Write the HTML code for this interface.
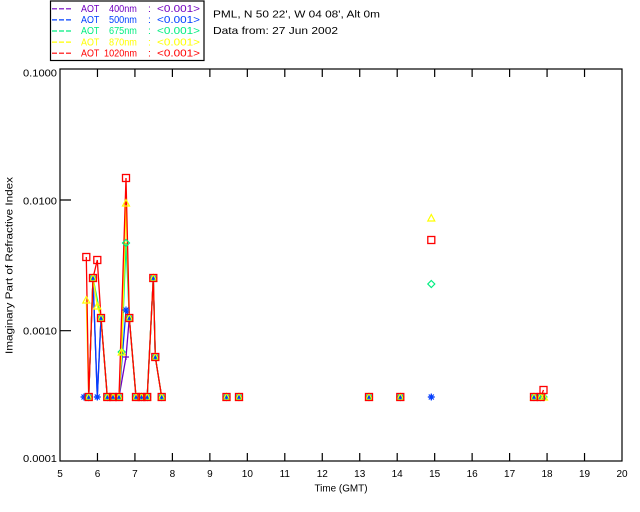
<!DOCTYPE html>
<html><head><meta charset="utf-8"><style>
html,body{margin:0;padding:0;background:#fff;}
svg{display:block;font-family:"Liberation Sans",sans-serif;}
</style></head><body>
<svg width="640" height="512" viewBox="0 0 640 512" xmlns="http://www.w3.org/2000/svg">
<defs>
<path id="m4" d="M-3,0H3M0,-3V3" stroke="#7000c0" stroke-width="1.2" fill="none"/>
<path id="m5" d="M-3.5,0H3.5M0,-3.5V3.5M-2.5,-2.5L2.5,2.5M-2.5,2.5L2.5,-2.5" stroke="#0040ff" stroke-width="1.2" fill="none"/>
<polygon id="m6" points="0,-3.5 3.5,0 0,3.5 -3.5,0" stroke="#00ee80" stroke-width="1.2" fill="none"/>
<polygon id="m8" points="0,-3.5 3.5,3 -3.5,3" stroke="#ffff00" stroke-width="1.2" fill="none"/>
<rect id="m10" x="-3.5" y="-3.5" width="7" height="7" stroke="#ff0000" stroke-width="1.3" fill="none"/>
</defs>
<rect width="640" height="512" fill="#fff"/>

<!-- legend -->
<rect x="50.5" y="1" width="153.5" height="59.5" fill="none" stroke="#000" stroke-width="1.2"/>
<g stroke-width="1.2" stroke-dasharray="5,2">
<line x1="52" y1="8.8" x2="71" y2="8.8" stroke="#7000c0"/>
<line x1="52" y1="19.9" x2="71" y2="19.9" stroke="#0040ff"/>
<line x1="52" y1="31" x2="71" y2="31" stroke="#00ee80"/>
<line x1="52" y1="42.1" x2="71" y2="42.1" stroke="#ffff00"/>
<line x1="52" y1="53.2" x2="71" y2="53.2" stroke="#ff0000"/>
</g>
<g font-size="10.5">
<g fill="#7000c0"><text transform="translate(81,12) scale(0.85,1)">AOT</text><text transform="translate(109,12) scale(0.87,1)">400nm</text><text x="148" y="12">:</text><text x="157" y="12" textLength="43" lengthAdjust="spacingAndGlyphs">&lt;0.001&gt;</text></g>
<g fill="#0040ff"><text transform="translate(81,23.1) scale(0.85,1)">AOT</text><text transform="translate(109,23.1) scale(0.87,1)">500nm</text><text x="148" y="23.1">:</text><text x="157" y="23.1" textLength="43" lengthAdjust="spacingAndGlyphs">&lt;0.001&gt;</text></g>
<g fill="#00ee80"><text transform="translate(81,34.2) scale(0.85,1)">AOT</text><text transform="translate(109,34.2) scale(0.87,1)">675nm</text><text x="148" y="34.2">:</text><text x="157" y="34.2" textLength="43" lengthAdjust="spacingAndGlyphs">&lt;0.001&gt;</text></g>
<g fill="#ffff00"><text transform="translate(81,45.3) scale(0.85,1)">AOT</text><text transform="translate(109,45.3) scale(0.87,1)">870nm</text><text x="148" y="45.3">:</text><text x="157" y="45.3" textLength="43" lengthAdjust="spacingAndGlyphs">&lt;0.001&gt;</text></g>
<g fill="#ff0000"><text transform="translate(81,56.4) scale(0.85,1)">AOT</text><text transform="translate(104,56.4) scale(0.87,1)">1020nm</text><text x="148" y="56.4">:</text><text x="157" y="56.4" textLength="43" lengthAdjust="spacingAndGlyphs">&lt;0.001&gt;</text></g>
<text x="213" y="17.5" textLength="167" lengthAdjust="spacingAndGlyphs" font-size="10.5">PML, N 50 22', W 04 08', Alt 0m</text>
<text x="213" y="34" textLength="125" lengthAdjust="spacingAndGlyphs" font-size="10.5">Data from: 27 Jun 2002</text>
</g>

<!-- axes -->
<rect x="60" y="69" width="562" height="392" fill="none" stroke="#000" stroke-width="1.2"/>
<g stroke="#000" stroke-width="1.2">
<path d="M60,200H71M60,330.7H71"/>
<path d="M97.47,69v8M134.93,69v8M172.4,69v8M209.87,69v8M247.33,69v8M284.8,69v8M322.27,69v8M359.73,69v8M397.2,69v8M434.67,69v8M472.13,69v8M509.6,69v8M547.07,69v8M584.53,69v8"/>
<path d="M97.47,461v-8M134.93,461v-8M172.4,461v-8M209.87,461v-8M247.33,461v-8M284.8,461v-8M322.27,461v-8M359.73,461v-8M397.2,461v-8M434.67,461v-8M472.13,461v-8M509.6,461v-8M547.07,461v-8M584.53,461v-8"/>
</g>
<g font-size="10" fill="#000">
<text x="23" y="76.5" textLength="34" lengthAdjust="spacingAndGlyphs">0.1000</text>
<text x="23" y="204.3" textLength="34" lengthAdjust="spacingAndGlyphs">0.0100</text>
<text x="23" y="334.3" textLength="34" lengthAdjust="spacingAndGlyphs">0.0010</text>
<text x="23" y="462" textLength="34" lengthAdjust="spacingAndGlyphs">0.0001</text>
</g>
<g font-size="10" fill="#000" text-anchor="middle">
<text x="60" y="476.8">5</text><text x="97.47" y="476.8">6</text><text x="134.93" y="476.8">7</text><text x="172.4" y="476.8">8</text><text x="209.87" y="476.8">9</text><text x="247.33" y="476.8">10</text><text x="284.8" y="476.8">11</text><text x="322.27" y="476.8">12</text><text x="359.73" y="476.8">13</text><text x="397.2" y="476.8">14</text><text x="434.67" y="476.8">15</text><text x="472.13" y="476.8">16</text><text x="509.6" y="476.8">17</text><text x="547.07" y="476.8">18</text><text x="584.53" y="476.8">19</text><text x="622" y="476.8">20</text>
<text x="341" y="491.5" textLength="53" lengthAdjust="spacingAndGlyphs">Time (GMT)</text>
<text transform="translate(12.5,265.5) rotate(-90)" textLength="177" lengthAdjust="spacingAndGlyphs">Imaginary Part of Refractive Index</text>
</g>

<!-- series lines -->
<g fill="none" stroke-width="1.3">
<polyline stroke="#7000c0" points="84,397 88.7,397 93,278 97.3,397 101,318 107.3,397 113,397 119,397 126,357 129.3,318 136,397 141.5,397 147.2,397 153.3,278 155.3,357 161.7,397"/>
<polyline stroke="#7000c0" points="534,397 540.7,397 543.5,397"/>
<polyline stroke="#0040ff" points="84,397 88.7,397 93,278 97.3,397 101,318 107.3,397 113,397 119,397 126,310 129.3,318 136,397 141.5,397 147.2,397 153.3,278 155.3,357 161.7,397"/>
<polyline stroke="#0040ff" points="534,397 540.7,397 543.5,397"/>
<polyline stroke="#00ee80" points="88.7,397 93,278 101,318 107.3,397 113,397 119,397 121.7,352 126,243 129.3,318 136,397 141.5,397 147.2,397 153.3,278 155.3,357 161.7,397"/>
<polyline stroke="#00ee80" points="534,397 540.7,397 543.5,397"/>
<polyline stroke="#ffff00" points="86.3,300 88.7,397 93,278 97.3,306 101,318 107.3,397 113,397 119,397 121.7,352 126,203 129.3,318 136,397 141.5,397 147.2,397 153.3,278 155.3,357 161.7,397"/>
<polyline stroke="#ffff00" points="534,397 540.7,397 543.5,397"/>
<polyline stroke="#ff0000" points="86.3,257 88.7,397 93,278 97.3,260 101,318 107.3,397 113,397 119,397 126,178 129.3,318 136,397 141.5,397 147.2,397 153.3,278 155.3,357 161.7,397"/>
<polyline stroke="#ff0000" points="534,397 540.7,397 543.5,390"/>
</g>

<!-- purple markers -->
<g>
<use href="#m4" x="84" y="397"/><use href="#m4" x="88.7" y="397"/><use href="#m4" x="93" y="278"/><use href="#m4" x="97.3" y="397"/><use href="#m4" x="101" y="318"/><use href="#m4" x="107.3" y="397"/><use href="#m4" x="113" y="397"/><use href="#m4" x="119" y="397"/><use href="#m4" x="126" y="357"/><use href="#m4" x="129.3" y="318"/><use href="#m4" x="136" y="397"/><use href="#m4" x="141.5" y="397"/><use href="#m4" x="147.2" y="397"/><use href="#m4" x="153.3" y="278"/><use href="#m4" x="155.3" y="357"/><use href="#m4" x="161.7" y="397"/>
<use href="#m4" x="226.5" y="397"/><use href="#m4" x="239" y="397"/><use href="#m4" x="369" y="397"/><use href="#m4" x="400.3" y="397"/><use href="#m4" x="431.3" y="397"/><use href="#m4" x="534" y="397"/><use href="#m4" x="540.7" y="397"/><use href="#m4" x="543.5" y="397"/>
</g>
<!-- blue markers -->
<g>
<use href="#m5" x="84" y="397"/><use href="#m5" x="88.7" y="397"/><use href="#m5" x="93" y="278"/><use href="#m5" x="97.3" y="397"/><use href="#m5" x="101" y="318"/><use href="#m5" x="107.3" y="397"/><use href="#m5" x="113" y="397"/><use href="#m5" x="119" y="397"/><use href="#m5" x="126" y="310"/><use href="#m5" x="129.3" y="318"/><use href="#m5" x="136" y="397"/><use href="#m5" x="141.5" y="397"/><use href="#m5" x="147.2" y="397"/><use href="#m5" x="153.3" y="278"/><use href="#m5" x="155.3" y="357"/><use href="#m5" x="161.7" y="397"/>
<use href="#m5" x="226.5" y="397"/><use href="#m5" x="239" y="397"/><use href="#m5" x="369" y="397"/><use href="#m5" x="400.3" y="397"/><use href="#m5" x="431.3" y="397"/><use href="#m5" x="534" y="397"/><use href="#m5" x="540.7" y="397"/><use href="#m5" x="543.5" y="397"/>
</g>
<!-- green markers -->
<g>
<use href="#m6" x="88.7" y="397"/><use href="#m6" x="93" y="278"/><use href="#m6" x="101" y="318"/><use href="#m6" x="107.3" y="397"/><use href="#m6" x="113" y="397"/><use href="#m6" x="119" y="397"/><use href="#m6" x="121.7" y="352"/><use href="#m6" x="126" y="243"/><use href="#m6" x="129.3" y="318"/><use href="#m6" x="136" y="397"/><use href="#m6" x="141.5" y="397"/><use href="#m6" x="147.2" y="397"/><use href="#m6" x="153.3" y="278"/><use href="#m6" x="155.3" y="357"/><use href="#m6" x="161.7" y="397"/>
<use href="#m6" x="226.5" y="397"/><use href="#m6" x="239" y="397"/><use href="#m6" x="369" y="397"/><use href="#m6" x="400.3" y="397"/><use href="#m6" x="431.3" y="284"/><use href="#m6" x="534" y="397"/><use href="#m6" x="540.7" y="397"/><use href="#m6" x="543.5" y="397"/>
</g>
<!-- yellow markers -->
<g>
<use href="#m8" x="86.3" y="300"/><use href="#m8" x="88.7" y="397"/><use href="#m8" x="93" y="278"/><use href="#m8" x="97.3" y="306"/><use href="#m8" x="101" y="318"/><use href="#m8" x="107.3" y="397"/><use href="#m8" x="113" y="397"/><use href="#m8" x="119" y="397"/><use href="#m8" x="121.7" y="352"/><use href="#m8" x="126" y="203"/><use href="#m8" x="129.3" y="318"/><use href="#m8" x="136" y="397"/><use href="#m8" x="141.5" y="397"/><use href="#m8" x="147.2" y="397"/><use href="#m8" x="153.3" y="278"/><use href="#m8" x="155.3" y="357"/><use href="#m8" x="161.7" y="397"/>
<use href="#m8" x="226.5" y="397"/><use href="#m8" x="239" y="397"/><use href="#m8" x="369" y="397"/><use href="#m8" x="400.3" y="397"/><use href="#m8" x="431.3" y="218"/><use href="#m8" x="534" y="397"/><use href="#m8" x="540.7" y="397"/><use href="#m8" x="544" y="397"/>
</g>
<!-- red markers -->
<g>
<use href="#m10" x="86.3" y="257"/><use href="#m10" x="88.7" y="397"/><use href="#m10" x="93" y="278"/><use href="#m10" x="97.3" y="260"/><use href="#m10" x="101" y="318"/><use href="#m10" x="107.3" y="397"/><use href="#m10" x="113" y="397"/><use href="#m10" x="119" y="397"/><use href="#m10" x="126" y="178"/><use href="#m10" x="129.3" y="318"/><use href="#m10" x="136" y="397"/><use href="#m10" x="141.5" y="397"/><use href="#m10" x="147.2" y="397"/><use href="#m10" x="153.3" y="278"/><use href="#m10" x="155.3" y="357"/><use href="#m10" x="161.7" y="397"/>
<use href="#m10" x="226.5" y="397"/><use href="#m10" x="239" y="397"/><use href="#m10" x="369" y="397"/><use href="#m10" x="400.3" y="397"/><use href="#m10" x="431.3" y="240"/><use href="#m10" x="534" y="397"/><use href="#m10" x="540.7" y="397"/><use href="#m10" x="543.5" y="390"/>
</g>
</svg>
</body></html>
